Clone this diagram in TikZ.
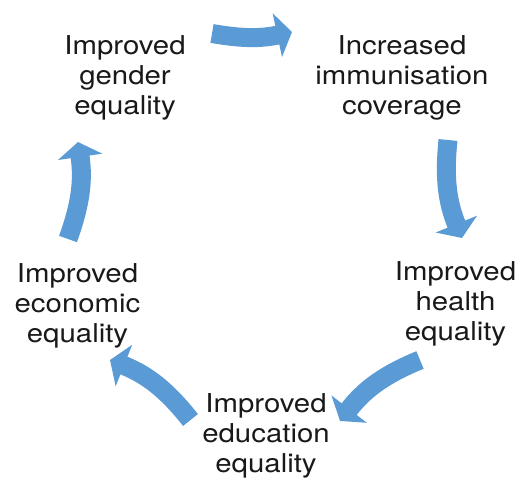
\documentclass[tikz,border=0pt]{standalone}
\usepackage{fontspec}
\setmainfont{TeX Gyre Heros}[FakeStretch=1.13]
\usetikzlibrary{arrows.meta}
\definecolor{cyclearrow}{HTML}{5B9BD5}
\begin{document}
\begin{tikzpicture}[x=1pt,y=-1pt,
  label/.style={align=center,inner sep=0pt,text=black!90,
    font=\fontsize{26}{30}\selectfont},
  cyclestep/.style={draw=cyclearrow,line width=19pt,
    -{Triangle[length=15pt,width=44pt]}},
]
\useasboundingbox (0,0) rectangle (520,484);

% statements around the cycle
\node[label] (gender)    at (125,78)    {Improved\\gender\\equality};
\node[label] (immun)     at (402,78)    {Increased\\immunisation\\coverage};
\node[label] (health)    at (455.5,303.5) {Improved\\health\\equality};
\node[label] (education) at (266,436)   {Improved\\education\\equality};
\node[label] (economic)  at (77.5,306)  {Improved\\economic\\equality};

% ends of the curved arrows
\coordinate (a1s) at (212,33.5);  \coordinate (a1e) at (292,32);
\coordinate (a2s) at (448,140);   \coordinate (a2e) at (462,238);
\coordinate (a3s) at (420,360);   \coordinate (a3e) at (340,421);
\coordinate (a4s) at (190.5,420); \coordinate (a4e) at (110,360);
\coordinate (a5s) at (68,239);    \coordinate (a5e) at (78,142);

\draw[cyclestep] (a1s) to[bend right=11] (a1e);
\draw[cyclestep] (a2s) to[bend right=14] (a2e);
\draw[cyclestep] (a3s) to[bend right=15] (a3e);
\draw[cyclestep] (a4s) to[bend right=15] (a4e);
\draw[cyclestep] (a5s) to[bend right=14] (a5e);
\end{tikzpicture}
\end{document}
